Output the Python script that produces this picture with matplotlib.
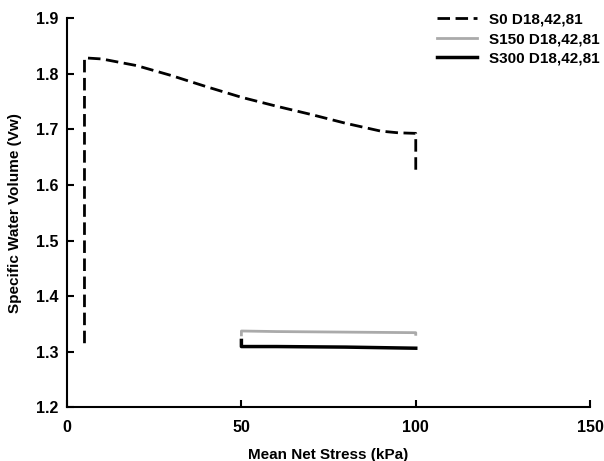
import matplotlib.pyplot as plt

plt.rcParams['font.family'] = ['Liberation Sans', 'DejaVu Sans']
plt.rcParams['font.weight'] = 'bold'

# S0 D18,42,81
s0_x = [5, 5, 5, 10, 20, 30, 40, 50, 60, 70, 80, 90, 95, 100, 100, 100]
s0_y = [1.315, 1.60, 1.829, 1.827, 1.815, 1.797, 1.777, 1.758, 1.742, 1.727, 1.711, 1.697, 1.694, 1.693, 1.66, 1.625]

# S150 D18,42,81
s150_x = [50, 50, 60, 80, 100, 100]
s150_y = [1.330, 1.337, 1.336, 1.335, 1.334, 1.331]

# S300 D18,42,81
s300_x = [50, 50, 60, 80, 100]
s300_y = [1.320, 1.309, 1.309, 1.308, 1.306]

fig = plt.figure(figsize=(6.04, 4.61), dpi=100)
ax = fig.add_axes([0.111, 0.117, 0.866, 0.843])

ax.plot(s0_x, s0_y, color='black', lw=2, dashes=(4.5, 2), label='S0 D18,42,81')
ax.plot(s150_x, s150_y, color='#aaaaaa', lw=2, label='S150 D18,42,81')
ax.plot(s300_x, s300_y, color='black', lw=2.5, label='S300 D18,42,81')

ax.set_xlim(0, 150)
ax.set_ylim(1.2, 1.9)
ax.set_xticks([0, 50, 100, 150])
ax.set_yticks([1.2, 1.3, 1.4, 1.5, 1.6, 1.7, 1.8, 1.9])
ax.set_yticklabels(['1.2', '1.3', '1.4', '1.5', '1.6', '1.7', '1.8', '1.9'])
ax.tick_params(direction='in', length=5, width=1.5, labelsize=11.5)
ax.tick_params(axis='y', pad=6)
ax.tick_params(axis='x', pad=9)
ax.spines['top'].set_visible(False)
ax.spines['right'].set_visible(False)
ax.spines['left'].set_linewidth(1.5)
ax.spines['bottom'].set_linewidth(1.5)

ax.set_xlabel('Mean Net Stress (kPa)', fontsize=11, fontweight='bold', labelpad=10)
ax.set_ylabel('Specific Water Volume (Vw)', fontsize=11, fontweight='bold', labelpad=10)

ax.legend(loc='upper right', bbox_to_anchor=(1.045, 1.05), frameon=False,
          fontsize=11, handlelength=2.6, labelspacing=0.35)

fig.savefig('out.png', dpi=100)
